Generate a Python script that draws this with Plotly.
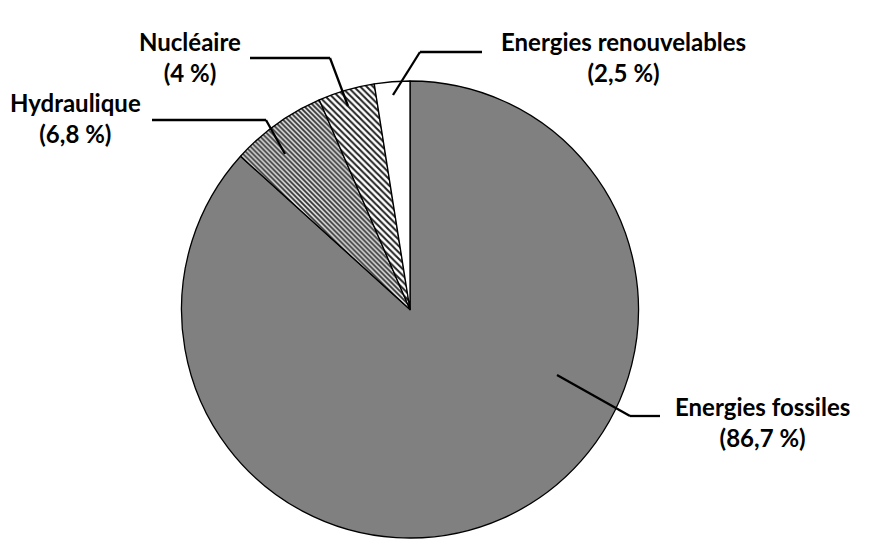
import plotly.graph_objects as go

labels = ["Energies fossiles", "Hydraulique", "Nucléaire", "Energies renouvelables"]
values = [86.7, 6.8, 4.0, 2.5]
label_texts = ["Energies fossiles<br>(86,7 %)", "Hydraulique<br>(6,8 %)", "Nucléaire<br>(4 %)", "Energies renouvelables<br>(2,5 %)"]

W, H = 873, 542
OFF = 8  # page body margin
cx, cy, r = 410 - OFF, 309.5 - OFF, 228.5

fig = go.Figure(go.Pie(
    labels=labels, values=values, sort=False, direction="clockwise", rotation=0,
    textinfo="none", hoverinfo="label+value",
    marker=dict(
        colors=["#808080", "white", "white", "white"],
        line=dict(color="black", width=1.3),
        pattern=dict(
            shape=["", "\\", "\\", ""],
            fgcolor=["#808080", "#333333", "#222222", "white"],
            bgcolor=["#808080", "#e0e0e0", "white", "white"],
            size=[6, 3.5, 4.5, 6],
            solidity=[0.3, 0.5, 0.45, 0.3],
            fillmode="replace",
        ),
    ),
    domain=dict(x=[(cx - r) / W, (cx + r) / W], y=[(H - cy - r) / H, (H - cy + r) / H]),
    showlegend=False,
))

def px(x, y):
    return (x - OFF) / W, 1 - (y - OFF) / H

leaders = [
    [(557, 375), (630, 416), (660, 416)],
    [(285, 154), (266, 120), (152, 120)],
    [(348, 106), (330, 58), (250, 58)],
    [(393, 95), (420, 52), (482, 52)],
]
for pts in leaders:
    for (x0, y0), (x1, y1) in zip(pts[:-1], pts[1:]):
        a, b = px(x0, y0)
        c, d = px(x1, y1)
        fig.add_shape(type="line", xref="paper", yref="paper", x0=a, y0=b, x1=c, y1=d,
                      line=dict(color="black", width=2.3))

label_pos = [(762, 422), (75, 118), (190, 57), (623, 57)]
for txt, (x, y) in zip(label_texts, label_pos):
    a, b = px(x, y)
    fig.add_annotation(x=a, y=b, xref="paper", yref="paper", text="<b>" + txt + "</b>",
                       showarrow=False, xanchor="center", yanchor="middle",
                       font=dict(family="Lato, Open Sans, sans-serif", size=24, color="black"),
                       align="center")

fig.update_layout(width=W, height=H, margin=dict(l=0, r=0, t=0, b=0),
                  paper_bgcolor="white", plot_bgcolor="white")
fig.write_html("out.html")
